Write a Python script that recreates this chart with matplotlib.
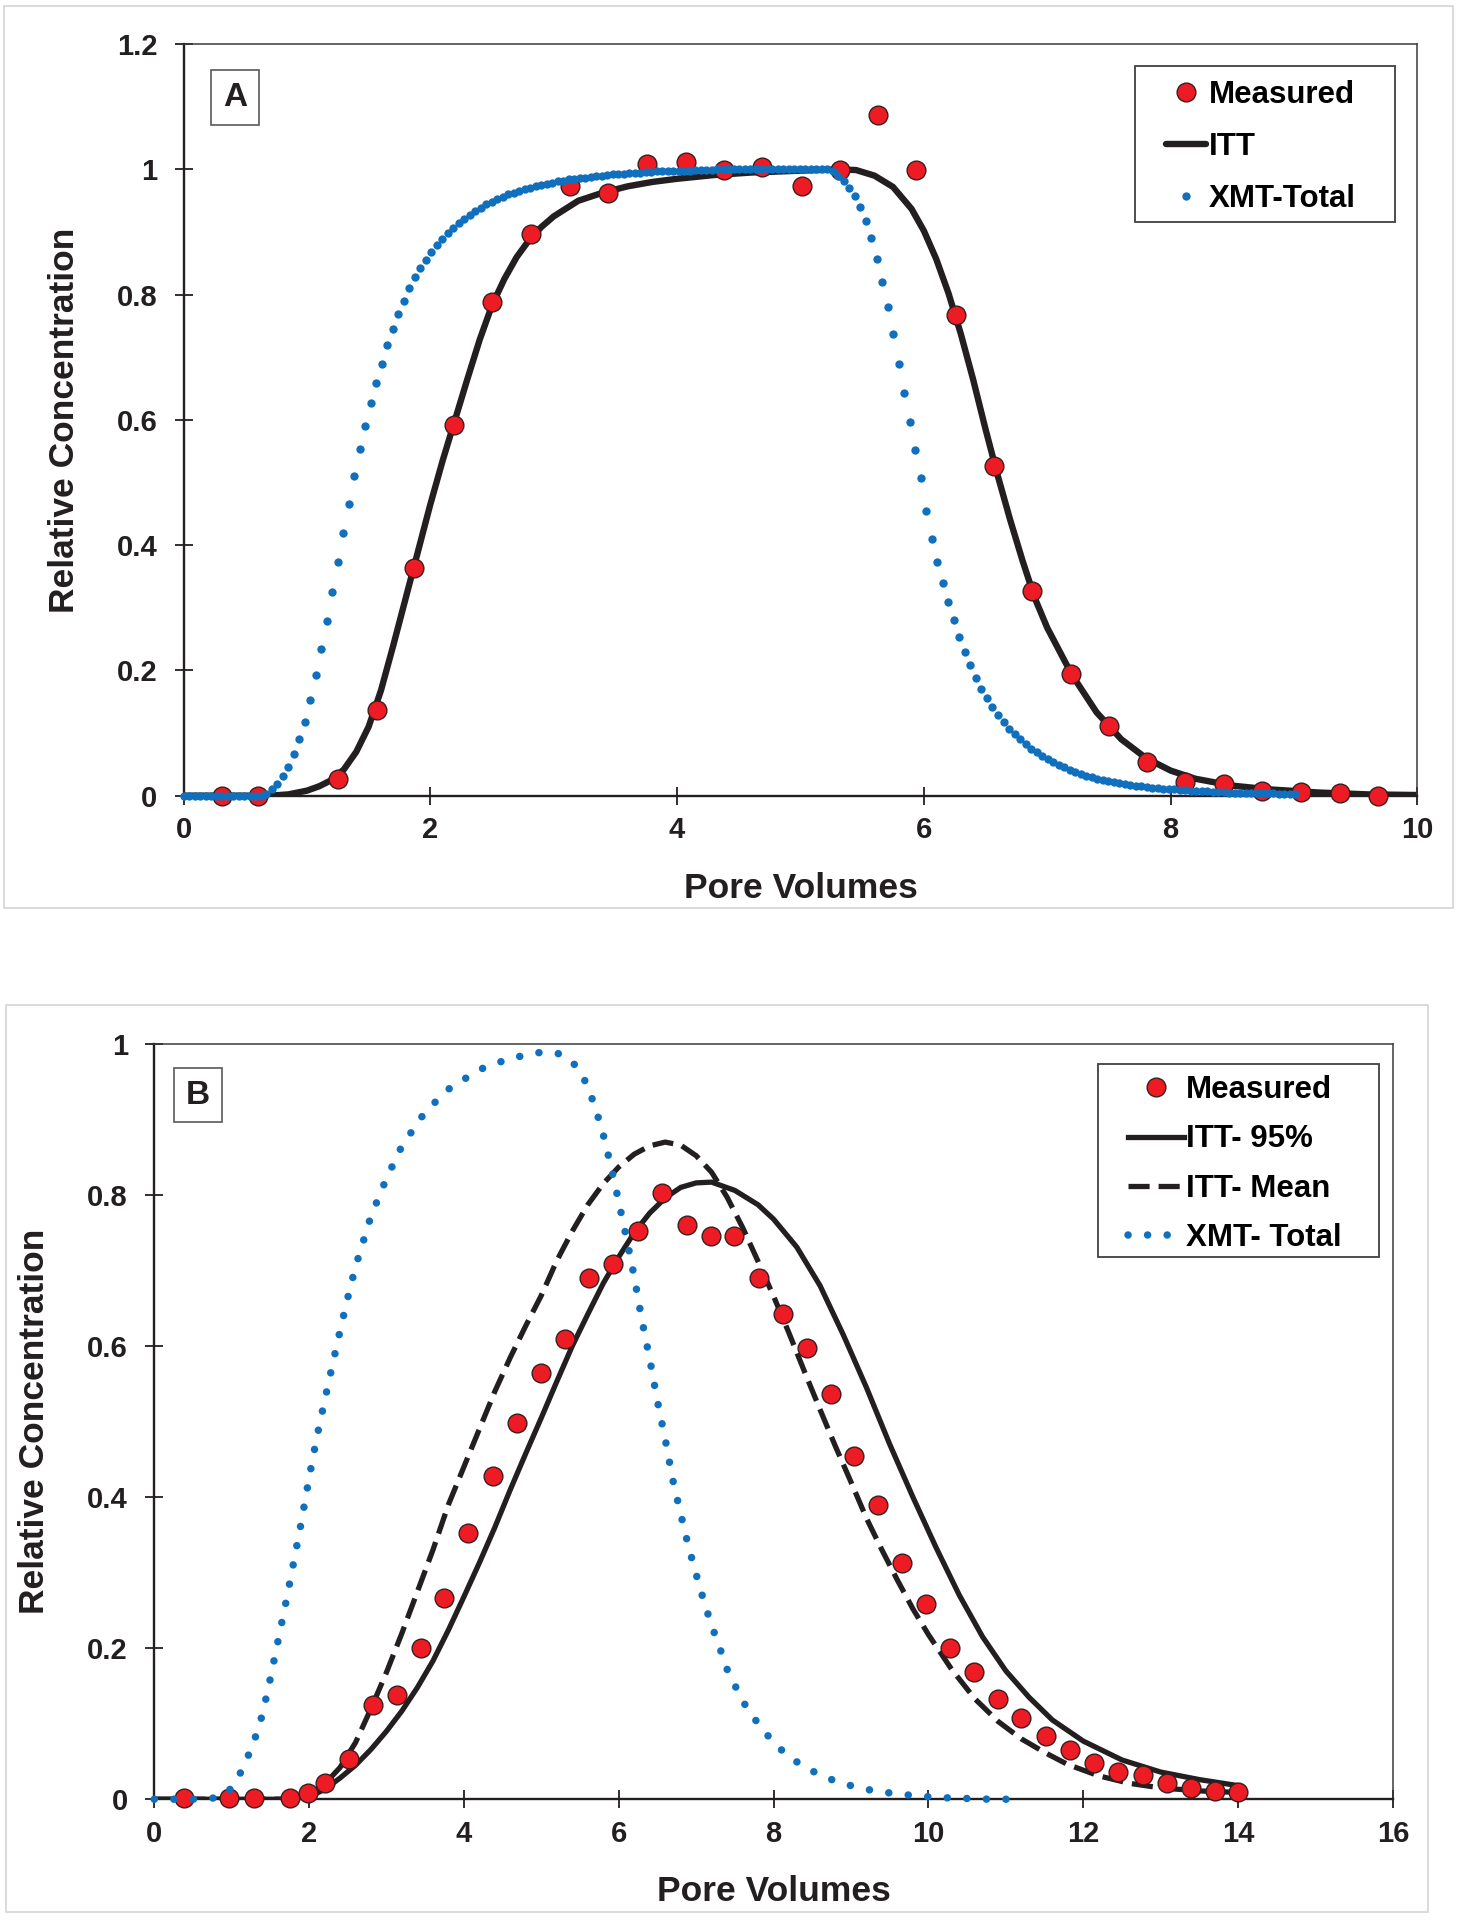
import numpy as np
import matplotlib
matplotlib.use("Agg")
import matplotlib.pyplot as plt
from matplotlib.patches import Rectangle

plt.rcParams['font.family'] = ['Liberation Sans', 'DejaVu Sans']
plt.rcParams['font.weight'] = 'bold'
plt.rcParams['axes.labelweight'] = 'bold'

# ---------------- panel A ----------------
meas_a_x = [0.31, 0.6, 1.25, 1.57, 1.87, 2.19, 2.5, 2.82, 3.13, 3.44, 3.76, 4.07, 4.38, 4.69, 5.01,
            5.32, 5.63, 5.94, 6.26, 6.57, 6.88, 7.19, 7.5, 7.81, 8.12, 8.43, 8.74, 9.06, 9.37, 9.68]
meas_a_y = [0.0, 0.0, 0.027, 0.137, 0.364, 0.592, 0.788, 0.897, 0.973, 0.963, 1.008, 1.012, 0.999, 1.004, 0.973,
            0.999, 1.087, 0.999, 0.768, 0.526, 0.326, 0.195, 0.111, 0.053, 0.021, 0.018, 0.008, 0.006, 0.004, 0.0]

itt_a_x = [0, 0.7, 0.85, 1.0, 1.1, 1.2, 1.3, 1.4, 1.5, 1.6, 1.7, 1.8, 1.9, 2.0, 2.1, 2.2, 2.3, 2.4, 2.5,
           2.6, 2.7, 2.8, 2.9, 3.0, 3.2, 3.4, 3.6, 3.8, 4.0, 4.3, 4.6, 5.0, 5.3, 5.45, 5.6, 5.75, 5.9,
           6.0, 6.1, 6.2, 6.3, 6.4, 6.5, 6.6, 6.7, 6.8, 6.9, 7.0, 7.2, 7.4, 7.6, 7.8, 8.0, 8.2, 8.5,
           8.8, 9.2, 9.6, 10.0]
itt_a_y = [0, 0, 0.002, 0.008, 0.015, 0.025, 0.042, 0.07, 0.11, 0.168, 0.24, 0.315, 0.39, 0.465, 0.535,
           0.6, 0.665, 0.728, 0.783, 0.825, 0.86, 0.887, 0.908, 0.925, 0.95, 0.963, 0.973, 0.98, 0.985,
           0.991, 0.995, 0.998, 1.0, 0.999, 0.99, 0.972, 0.937, 0.902, 0.857, 0.802, 0.737, 0.664, 0.585,
           0.51, 0.44, 0.375, 0.315, 0.268, 0.193, 0.133, 0.09, 0.06, 0.04, 0.027, 0.016, 0.01, 0.005,
           0.002, 0.001]

# XMT-Total model output, one value every 0.0446 pore volumes
xmt_a_step = 0.0446
xmt_a_y = [0, 0, 0, 0, 0, 0, 0, 0, 0, 0,
           0, 0, 0, 0, 0, 0.003, 0.010, 0.019, 0.031, 0.046,
           0.066, 0.090, 0.118, 0.153, 0.192, 0.234, 0.279, 0.325, 0.373, 0.419,
           0.465, 0.510, 0.553, 0.591, 0.627, 0.659, 0.690, 0.719, 0.745, 0.769,
           0.790, 0.810, 0.828, 0.843, 0.856, 0.868, 0.879, 0.889, 0.898, 0.906,
           0.914, 0.921, 0.927, 0.933, 0.939, 0.944, 0.948, 0.952, 0.956, 0.960,
           0.963, 0.966, 0.969, 0.971, 0.973, 0.975, 0.977, 0.979, 0.981, 0.982,
           0.984, 0.985, 0.986, 0.987, 0.988, 0.989, 0.990, 0.991, 0.992, 0.993,
           0.993, 0.994, 0.995, 0.995, 0.996, 0.996, 0.997, 0.997, 0.997, 0.998,
           0.998, 0.998, 0.998, 0.999, 0.999, 0.999, 0.999, 1.0, 1.0, 1.0,
           1.0, 1.0, 1.0, 1.0, 1.0, 1.0, 1.0, 1.0, 1.0, 1.0,
           1.0, 1.0, 1.0, 1.0, 1.0, 1.0, 1.0, 1.0, 0.997, 0.990,
           0.981, 0.971, 0.958, 0.940, 0.918, 0.890, 0.857, 0.820, 0.780, 0.737,
           0.690, 0.643, 0.597, 0.552, 0.507, 0.455, 0.410, 0.373, 0.340, 0.309,
           0.280, 0.253, 0.229, 0.208, 0.188, 0.171, 0.156, 0.142, 0.129, 0.118,
           0.107, 0.098, 0.090, 0.082, 0.075, 0.069, 0.063, 0.058, 0.053, 0.049,
           0.045, 0.041, 0.038, 0.035, 0.032, 0.030, 0.027, 0.025, 0.023, 0.021,
           0.020, 0.018, 0.017, 0.016, 0.015, 0.014, 0.013, 0.012, 0.011, 0.010,
           0.010, 0.009, 0.009, 0.008, 0.008, 0.007, 0.007, 0.006, 0.006, 0.006,
           0.005, 0.005, 0.005, 0.005, 0.004, 0.004, 0.004, 0.004, 0.004, 0.003,
           0.003, 0.003, 0.003]
xmt_a_x = np.arange(len(xmt_a_y)) * xmt_a_step

# ---------------- panel B ----------------
meas_b_x = [0.38, 0.97, 1.29, 1.75, 1.99, 2.2, 2.51, 2.82, 3.13, 3.44, 3.74, 4.05, 4.37, 4.69, 5.0,
            5.31, 5.62, 5.93, 6.25, 6.56, 6.88, 7.19, 7.49, 7.81, 8.12, 8.43, 8.74, 9.04, 9.35, 9.66,
            9.97, 10.28, 10.59, 10.9, 11.2, 11.52, 11.83, 12.14, 12.45, 12.77, 13.08, 13.39, 13.7, 14.0]
meas_b_y = [0.002, 0.001, 0.001, 0.001, 0.008, 0.022, 0.053, 0.125, 0.138, 0.2, 0.266, 0.352, 0.428, 0.498, 0.564,
            0.609, 0.69, 0.708, 0.752, 0.802, 0.76, 0.746, 0.746, 0.69, 0.643, 0.598, 0.536, 0.455, 0.389, 0.313,
            0.258, 0.2, 0.168, 0.133, 0.107, 0.084, 0.065, 0.048, 0.036, 0.032, 0.022, 0.015, 0.011, 0.01]

itt95_x = [0, 1.8, 2.0, 2.2, 2.4, 2.6, 2.8, 3.0, 3.2, 3.4, 3.6, 3.8, 4.0, 4.2, 4.4, 4.6, 4.8, 5.0, 5.2,
           5.4, 5.6, 5.8, 6.0, 6.2, 6.4, 6.6, 6.8, 7.0, 7.2, 7.5, 7.8, 8.0, 8.3, 8.6, 8.9, 9.2, 9.5,
           9.8, 10.1, 10.4, 10.7, 11.0, 11.3, 11.6, 12.0, 12.5, 13.0, 13.5, 14.0]
itt95_y = [0, 0, 0.003, 0.013, 0.028, 0.045, 0.066, 0.09, 0.117, 0.148, 0.183, 0.224, 0.268, 0.313, 0.36,
           0.41, 0.458, 0.505, 0.553, 0.6, 0.642, 0.683, 0.718, 0.75, 0.776, 0.796, 0.81, 0.816, 0.817,
           0.806, 0.787, 0.768, 0.731, 0.68, 0.615, 0.545, 0.47, 0.4, 0.333, 0.27, 0.215, 0.17, 0.135,
           0.105, 0.077, 0.052, 0.036, 0.026, 0.018]

ittmean_x = [0, 1.8, 2.0, 2.2, 2.4, 2.6, 2.8, 3.0, 3.2, 3.4, 3.6, 3.8, 4.0, 4.2, 4.4, 4.6, 4.8, 5.0, 5.2,
             5.4, 5.6, 5.8, 6.0, 6.2, 6.4, 6.6, 6.8, 7.0, 7.2, 7.4, 7.6, 7.8, 8.0, 8.2, 8.4, 8.6, 8.8,
             9.0, 9.2, 9.4, 9.6, 9.8, 10.0, 10.3, 10.6, 10.9, 11.2, 11.5, 11.8, 12.2, 12.6, 13.0, 13.5, 14.0]
ittmean_y = [0, 0, 0.006, 0.02, 0.042, 0.075, 0.12, 0.168, 0.22, 0.275, 0.33, 0.39, 0.44, 0.49, 0.54,
             0.585, 0.627, 0.667, 0.713, 0.752, 0.787, 0.815, 0.837, 0.854, 0.865, 0.87, 0.866, 0.852,
             0.83, 0.797, 0.757, 0.712, 0.666, 0.617, 0.566, 0.516, 0.467, 0.42, 0.372, 0.33, 0.29,
             0.252, 0.218, 0.172, 0.133, 0.103, 0.08, 0.062, 0.046, 0.031, 0.021, 0.015, 0.011, 0.009]

xmt_b_x = [0, 0.6, 0.8, 0.9, 1.0, 1.1, 1.2, 1.3, 1.4, 1.5, 1.6, 1.7, 1.8, 1.9, 2.0, 2.1, 2.2, 2.3, 2.4,
           2.5, 2.6, 2.8, 3.0, 3.2, 3.5, 3.8, 4.2, 4.6, 5.0, 5.2, 5.35, 5.5, 5.6, 5.7, 5.8, 5.9, 6.0,
           6.1, 6.2, 6.3, 6.4, 6.5, 6.6, 6.7, 6.8, 6.9, 7.0, 7.1, 7.2, 7.3, 7.4, 7.6, 7.8, 8.0, 8.2,
           8.4, 8.6, 8.8, 9.0, 9.3, 9.6, 9.9, 10.2, 10.5, 10.8, 11.15]
xmt_b_y = [0, 0, 0.002, 0.006, 0.015, 0.032, 0.054, 0.08, 0.113, 0.16, 0.21, 0.26, 0.313, 0.367, 0.425,
           0.479, 0.527, 0.574, 0.62, 0.664, 0.705, 0.772, 0.822, 0.865, 0.91, 0.94, 0.966, 0.981, 0.989,
           0.988, 0.981, 0.965, 0.943, 0.915, 0.88, 0.838, 0.791, 0.743, 0.692, 0.634, 0.583, 0.527,
           0.477, 0.422, 0.378, 0.335, 0.298, 0.262, 0.23, 0.202, 0.172, 0.13, 0.1, 0.075, 0.056, 0.043,
           0.032, 0.024, 0.018, 0.011, 0.007, 0.004, 0.002, 0.001, 0.0, 0.0]

yticks_a = [0, 0.2, 0.4, 0.6, 0.8, 1.0, 1.2]
ylabels_a = ['0', '0.2', '0.4', '0.6', '0.8', '1', '1.2']
yticks_b = [0, 0.2, 0.4, 0.6, 0.8, 1.0]
ylabels_b = ['0', '0.2', '0.4', '0.6', '0.8', '1']

RED = '#ED1C24'
BLUE = '#1170BD'
INK = '#231F20'


def style(ax, xmax, xstep, yticks, ylabels):
    ax.set_xlim(0, xmax)
    ax.set_ylim(0, yticks[-1])
    xt = list(range(0, xmax + 1, xstep))
    ax.set_xticks(xt)
    ax.set_xticklabels([str(v) for v in xt])
    ax.set_yticks(yticks)
    ax.set_yticklabels(ylabels)
    ax.tick_params(direction='inout', length=13, width=1.3, color=INK,
                   labelsize=21, labelcolor=INK)
    ax.tick_params(axis='x', pad=8.5)
    ax.tick_params(axis='y', pad=12.5)
    for s in ['left', 'bottom']:
        ax.spines[s].set_linewidth(1.7)
        ax.spines[s].set_color(INK)
    for s in ['top', 'right']:
        ax.spines[s].set_linewidth(1.1)
        ax.spines[s].set_color('#3A3A3A')
    ax.set_xlabel('Pore Volumes', fontsize=25.5, fontweight='bold', color=INK)
    ax.set_ylabel('Relative Concentration', fontsize=25.5, fontweight='bold', color=INK)
    ax.xaxis.label.set_va('center')
    ax.yaxis.label.set_va('center')
    ax.yaxis.label.set_ha('center')


fig = plt.figure(figsize=(14.59, 19.2), dpi=100)

for (x0, y0, w, h) in [(0.0027, 0.5271, 0.9931, 0.4698), (0.0041, 0.0042, 0.9746, 0.4724)]:
    fig.patches.append(Rectangle((x0, y0), w, h, transform=fig.transFigure,
                                 fill=False, edgecolor='#D4D4D4', lw=1.2))

# ---- A ----
axA = fig.add_axes([0.1258, 0.5856, 0.8457, 0.3914])
style(axA, 10, 2, yticks_a, ylabels_a)
axA.xaxis.set_label_coords(0.5, -0.1237)
axA.yaxis.set_label_coords(-0.0964, 0.5)

l_itt, = axA.plot(itt_a_x, itt_a_y, color=INK, lw=4.6, solid_capstyle='round',
                  solid_joinstyle='round', zorder=2, label='ITT')
l_ma, = axA.plot(meas_a_x, meas_a_y, 'o', ms=13.5, mfc=RED, mec='#3B1D1D', mew=1.0,
                 clip_on=False, zorder=3, label='Measured')
l_xa, = axA.plot(xmt_a_x, xmt_a_y, 'o', ms=6.0, color=BLUE, mec='none',
                 clip_on=False, zorder=4, label='XMT-Total')

axA.text(0.0417, 0.929, 'A', transform=axA.transAxes, ha='center', va='center',
         fontsize=24, color=INK,
         bbox=dict(boxstyle='square,pad=0.35', fc='white', ec='#595959', lw=1.2))

axA.add_patch(Rectangle((0.7711, 0.7633), 0.2107, 0.2076, transform=axA.transAxes,
                        fc='white', ec='#404040', lw=1.3, zorder=6))
legA = axA.legend(handles=[l_ma, l_itt, l_xa], loc='upper left', bbox_to_anchor=(0.7962, 0.952),
                  frameon=False, borderpad=0, borderaxespad=0, handlelength=1.28,
                  handletextpad=0.1, labelspacing=0.7, numpoints=1,
                  prop={'size': 22.5, 'weight': 'bold'})
legA.set_zorder(7)

# ---- B ----
axB = fig.add_axes([0.1057, 0.0629, 0.849, 0.3934])
style(axB, 16, 2, yticks_b, ylabels_b)
axB.xaxis.set_label_coords(0.5, -0.1226)
axB.yaxis.set_label_coords(-0.0965, 0.5)

l_95, = axB.plot(itt95_x, itt95_y, color=INK, lw=3.8, solid_joinstyle='round', zorder=2,
                 label='ITT- 95%')
l_mean, = axB.plot(ittmean_x, ittmean_y, color=INK, lw=3.8, ls=(0, (4, 1.7)), zorder=2,
                   label='ITT- Mean')
l_mb, = axB.plot(meas_b_x, meas_b_y, 'o', ms=13.5, mfc=RED, mec='#3B1D1D', mew=1.0,
                 clip_on=False, zorder=3, label='Measured')
l_xb, = axB.plot(xmt_b_x, xmt_b_y, color=BLUE, lw=5.4, ls=(0, (0.01, 2.6)),
                 dash_capstyle='round', clip_on=False, zorder=4, label='XMT- Total')

axB.text(0.0354, 0.932, 'B', transform=axB.transAxes, ha='center', va='center',
         fontsize=24, color=INK,
         bbox=dict(boxstyle='square,pad=0.35', fc='white', ec='#595959', lw=1.2))

axB.add_patch(Rectangle((0.7619, 0.718), 0.2268, 0.2555, transform=axB.transAxes,
                        fc='white', ec='#404040', lw=1.3, zorder=6))
legB = axB.legend(handles=[l_mb, l_95, l_mean, l_xb], loc='upper left',
                  bbox_to_anchor=(0.7861, 0.9587), frameon=False, borderpad=0,
                  borderaxespad=0, handlelength=1.8, handletextpad=0.05,
                  labelspacing=0.62, numpoints=1, prop={'size': 22.5, 'weight': 'bold'})
legB.set_zorder(7)

fig.savefig('out.png', dpi=100)
